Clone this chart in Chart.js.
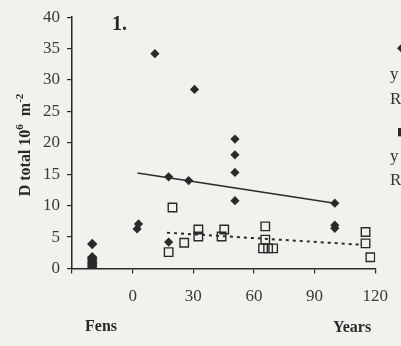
<!DOCTYPE html>
<html>
<head>
<meta charset="utf-8">
<script src="https://cdn.jsdelivr.net/npm/chart.js@4/dist/chart.umd.min.js"></script>
<style>
  html, body { margin: 0; padding: 0; background: #f1f1ee; }
  #wrap { width: 401px; height: 346px; position: relative; }
</style>
</head>
<body>
<div id="wrap"><canvas id="chart" width="401" height="346"></canvas></div>
<script>
// forest age (years) vs D total; "Fens" plotted at x = -20
const diamondX = [-20, -20, -20, -20, -20, -20, -20, -20, -20, 2.2, 2.9, 11, 17.8, 17.8, 27.7, 30.6, 50.6, 50.6, 50.6, 50.6, 100, 100, 100];
const diamondY = [0, 0.25, 0.5, 0.75, 1.0, 1.3, 1.6, 1.8, 3.9, 6.3, 7.1, 34.2, 14.6, 4.2, 14.0, 28.5, 20.6, 18.1, 15.3, 10.8, 10.4, 6.9, 6.4];
const squareX = [17.8, 19.7, 25.5, 32.5, 32.5, 44, 45.3, 65.6, 65.6, 64.5, 67, 69.5, 115.2, 115.2, 117.6];
const squareY = [2.6, 9.7, 4.1, 6.2, 5.1, 5.1, 6.2, 6.7, 4.6, 3.2, 3.2, 3.2, 5.8, 4.0, 1.8];
// regression lines (end points)
const solidX = [2.4, 100];
const solidY = [15.2, 10.4];
const dottedX = [17, 112];
const dottedY = [5.7, 3.8];
const xTicks = [0, 30, 60, 90, 120];
const yTicks = [0, 5, 10, 15, 20, 25, 30, 35, 40];

const pts = (xs, ys) => xs.map((x, i) => ({ x: x, y: ys[i] }));
const ink = '#2a2a2a';

// extra text: panel number, axis titles, clipped legend at right edge
const labels = {
  id: 'labels',
  afterDraw(c) {
    const ctx = c.ctx;
    ctx.save();
    ctx.fillStyle = ink;
    ctx.textBaseline = 'middle';

    ctx.font = 'bold 20px "Liberation Serif"';
    ctx.textAlign = 'left';
    ctx.fillText('1.', 112, 25);

    ctx.font = 'bold 16px "Liberation Serif"';
    ctx.textAlign = 'center';
    ctx.fillText('Fens', 101, 327);
    ctx.fillText('Years', 352, 328);

    // y title, rotated, with superscripts
    const parts = [
      ['D total 10', 'bold 16px "Liberation Serif"', 0],
      ['6', 'bold 11px "Liberation Serif"', -6],
      ['  m', 'bold 16px "Liberation Serif"', 0],
      ['-2', 'bold 11px "Liberation Serif"', -6]
    ];
    let total = 0;
    parts.forEach(p => { ctx.font = p[1]; total += ctx.measureText(p[0]).width; });
    ctx.translate(26, 145);
    ctx.rotate(-Math.PI / 2);
    ctx.textAlign = 'left';
    let x = -total / 2;
    parts.forEach(p => {
      ctx.font = p[1];
      ctx.fillText(p[0], x, p[2]);
      x += ctx.measureText(p[0]).width;
    });
    ctx.setTransform(1, 0, 0, 1, 0, 0);

    // legend (cut off by the page edge)
    ctx.textAlign = 'left';
    ctx.font = '11px "DejaVu Sans"';
    ctx.fillText('\u25C6', 397, 48);
    ctx.fillText('\u25A0', 397, 132);
    ctx.font = '17px "Liberation Serif"';
    ctx.fillStyle = '#333';
    ctx.fillText('y = -0.05x + 15.3', 390, 75);
    ctx.fillText('R\u00B2 = 0.03', 390, 100);
    ctx.fillText('y = -0.02x + 6.0', 390, 157);
    ctx.fillText('R\u00B2 = 0.02', 390, 181);
    ctx.restore();
  }
};

new Chart(document.getElementById('chart'), {
  type: 'scatter',
  data: {
    datasets: [
      {
        data: pts(solidX, solidY), showLine: true, pointRadius: 0,
        borderColor: ink, borderWidth: 1.5
      },
      {
        data: pts(dottedX, dottedY), showLine: true, pointRadius: 0,
        borderColor: ink, borderWidth: 2, borderDash: [3, 4]
      },
      {
        data: pts(squareX, squareY), pointStyle: 'rect', pointRadius: 6,
        backgroundColor: 'rgba(0,0,0,0)', borderColor: ink, borderWidth: 1.4
      },
      {
        data: pts(diamondX, diamondY), pointStyle: 'rectRot',
        pointRadius: c => (c.raw && c.raw.x < 0 ? 5.2 : 4.6),
        backgroundColor: ink, borderColor: ink, borderWidth: 0
      }
    ]
  },
  options: {
    responsive: false,
    animation: false,
    layout: { padding: { left: 0, right: 17, top: 14, bottom: 0 } },
    plugins: { legend: { display: false }, tooltip: { enabled: false } },
    scales: {
      x: {
        type: 'linear', min: -30, max: 120,
        afterBuildTicks: s => { s.ticks = [-30].concat(xTicks).map(v => ({ value: v })); },
        afterFit: s => { s.height = 77.5; },
        grid: { drawOnChartArea: false, drawTicks: true, tickLength: 5, color: ink, lineWidth: 1.2 },
        border: { display: true, color: ink, width: 1.5 },
        ticks: {
          color: '#3a3a3a', padding: 13,
          font: { family: 'Liberation Serif', size: 17 },
          callback: v => (v < 0 ? '' : v)
        }
      },
      y: {
        type: 'linear', min: 0, max: 40,
        afterBuildTicks: s => { s.ticks = yTicks.map(v => ({ value: v })); },
        afterFit: s => { s.width = 72; },
        grid: { drawOnChartArea: false, drawTicks: true, tickLength: 5, color: ink, lineWidth: 1.2 },
        border: { display: true, color: ink, width: 1.5 },
        ticks: {
          color: '#3a3a3a', padding: 7,
          font: { family: 'Liberation Serif', size: 17 }
        }
      }
    }
  },
  plugins: [labels]
});
</script>
</body>
</html>
